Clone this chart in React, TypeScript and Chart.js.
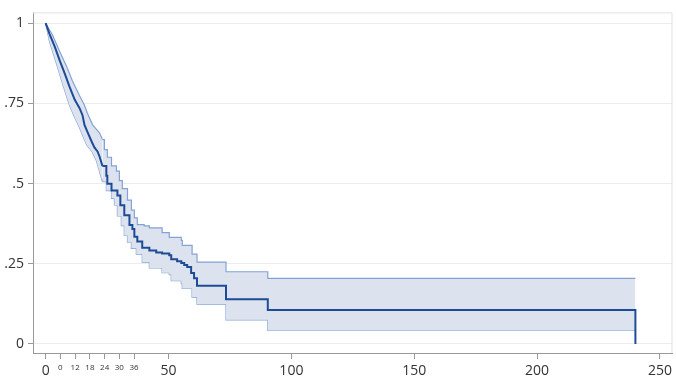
import React, { useEffect, useRef } from "react";
import { Chart, registerables } from "chart.js";

Chart.register(...registerables);

// Kaplan-Meier estimate (time, survival)
const meanTime = [0, 1.6, 3.7, 5.7, 7.7, 9.7, 11.8, 13.8, 15.0, 15.8, 17.0, 18.7, 19.9, 21.1, 21.9, 23.1, 24.7, 25.1, 26.8, 29.2, 30.4, 32.0, 34.1, 35.3, 36.1, 37.3, 39.3, 42.2, 45.0, 47.4, 50.3, 51.1, 53.5, 55.2, 56.4, 57.6, 59.2, 60.4, 61.6, 73.4, 90.4, 240];
const meanSurv = [1.0, 0.966, 0.927, 0.884, 0.844, 0.802, 0.762, 0.735, 0.713, 0.683, 0.661, 0.631, 0.612, 0.6, 0.585, 0.555, 0.524, 0.499, 0.478, 0.463, 0.432, 0.401, 0.371, 0.358, 0.334, 0.319, 0.3, 0.291, 0.285, 0.282, 0.276, 0.264, 0.258, 0.252, 0.246, 0.24, 0.221, 0.205, 0.181, 0.139, 0.106, 0];

// Upper confidence limit
const upperTime = [0, 2.8, 5.7, 8.5, 10.9, 13.8, 15.8, 17.0, 19.1, 21.9, 23.1, 23.9, 25.1, 26.8, 28.8, 30.0, 31.2, 33.3, 34.9, 36.1, 37.3, 40.1, 42.2, 47.4, 50.3, 55.2, 55.6, 59.6, 61.6, 73.4, 90.4, 240];
const upperSurv = [1.0, 0.963, 0.912, 0.866, 0.82, 0.774, 0.744, 0.719, 0.683, 0.658, 0.637, 0.606, 0.582, 0.555, 0.539, 0.509, 0.484, 0.448, 0.417, 0.393, 0.372, 0.368, 0.362, 0.347, 0.332, 0.323, 0.307, 0.28, 0.255, 0.225, 0.204, 0.204];

// Lower confidence limit
const lowerTime = [0, 1.6, 4.5, 6.9, 9.7, 11.8, 13.8, 16.6, 19.1, 20.7, 21.9, 23.1, 24.7, 26.8, 28.0, 29.2, 30.8, 32.0, 33.3, 34.9, 36.9, 39.3, 42.2, 47.4, 50.3, 51.1, 55.2, 55.6, 59.6, 61.6, 73.4, 90.4, 240];
const lowerSurv = [1.0, 0.942, 0.872, 0.811, 0.744, 0.707, 0.674, 0.622, 0.597, 0.57, 0.539, 0.506, 0.478, 0.454, 0.433, 0.399, 0.369, 0.338, 0.317, 0.298, 0.28, 0.255, 0.237, 0.222, 0.216, 0.197, 0.188, 0.173, 0.146, 0.124, 0.075, 0.042, 0.042];

// dense early part is drawn as a smooth trace, steps after this time
const SPLIT_TIME = 23.1;

const xMajorTicks = [0, 50, 100, 150, 200, 250];
const xMinorTicks = [6, 12, 18, 24, 30, 36];
const xMinorLabels = ["0", "12", "18", "24", "30", "36"];
const yTicks = [0, 0.25, 0.5, 0.75, 1];
const yTickLabels = ["0", ".25", ".5", ".75", "1"];

const FONT = "'Open Sans', 'Noto Sans', sans-serif";

export default function App() {
  const ref = useRef<HTMLCanvasElement>(null);

  useEffect(() => {
    if (!ref.current) return;
    const toPts = (xs: number[], ys: number[]) => xs.map((x, i) => ({ x, y: ys[i] }));
    const early = (xs: number[], ys: number[]) => toPts(xs, ys).filter((p) => p.x <= SPLIT_TIME);
    const late = (xs: number[], ys: number[]) => toPts(xs, ys).filter((p) => p.x >= SPLIT_TIME);
    const allX = [...xMajorTicks, ...xMinorTicks].sort((a, b) => a - b);

    const meanStyle = { borderColor: "#1d4b97", borderWidth: 2, pointRadius: 0, fill: false };
    const bandEdge = "rgba(125,158,212,0.95)";
    const bandFill = "#dde3ee";

    const borderPlugin = {
      id: "plotBorder",
      beforeDatasetsDraw(chart: any) {
        const { ctx, chartArea: a } = chart;
        ctx.save();
        ctx.strokeStyle = "#e2e2e2";
        ctx.lineWidth = 1;
        ctx.beginPath();
        ctx.moveTo(a.left, a.top + 0.5);
        ctx.lineTo(a.right - 0.5, a.top + 0.5);
        ctx.lineTo(a.right - 0.5, a.bottom);
        ctx.stroke();
        ctx.restore();
      },
    };

    const chart = new Chart(ref.current, {
      type: "line",
      data: {
        datasets: [
          { label: "Survival", data: early(meanTime, meanSurv), stepped: false, ...meanStyle },
          { label: "Survival (steps)", data: late(meanTime, meanSurv), stepped: true, ...meanStyle },
          {
            label: "Upper",
            data: early(upperTime, upperSurv),
            borderColor: bandEdge,
            borderWidth: 1.2,
            stepped: false,
            pointRadius: 0,
            fill: "+1",
            backgroundColor: bandFill,
          },
          {
            label: "Lower",
            data: early(lowerTime, lowerSurv),
            borderColor: bandEdge,
            borderWidth: 1.2,
            stepped: false,
            pointRadius: 0,
            fill: false,
          },
          {
            label: "Upper (steps)",
            data: late(upperTime, upperSurv),
            borderColor: bandEdge,
            borderWidth: 1.2,
            stepped: true,
            pointRadius: 0,
            fill: "+1",
            backgroundColor: bandFill,
          },
          {
            label: "Lower (steps)",
            data: late(lowerTime, lowerSurv),
            borderColor: bandEdge,
            borderWidth: 1.2,
            stepped: true,
            pointRadius: 0,
            fill: false,
          },
        ],
      },
      options: {
        responsive: false,
        animation: false,
        devicePixelRatio: 1,
        layout: { padding: { top: 5, right: 1, left: 0, bottom: 0 } },
        plugins: { legend: { display: false }, tooltip: { enabled: false } },
        scales: {
          x: {
            type: "linear",
            min: -5.15,
            max: 255.1,
            afterBuildTicks: (s: any) => {
              s.ticks = allX.map((v) => ({ value: v }));
            },
            afterFit: (s: any) => {
              s.height = 31;
            },
            grid: { drawOnChartArea: false, tickLength: 6, tickColor: "#999" },
            border: { color: "#999" },
            ticks: {
              autoSkip: false,
              maxRotation: 0,
              minRotation: 0,
              padding: 4,
              color: "#333",
              font: (ctx: any) => {
                const v = ctx.tick ? ctx.tick.value : 0;
                return { family: FONT, size: xMinorTicks.includes(v) ? 8 : 14 };
              },
              callback: (v: any) => {
                const i = xMinorTicks.indexOf(v);
                return i >= 0 ? xMinorLabels[i] : String(v);
              },
            },
          },
          y: {
            type: "linear",
            min: -0.0284,
            max: 1.0336,
            afterBuildTicks: (s: any) => {
              s.ticks = yTicks.map((v) => ({ value: v }));
            },
            afterFit: (s: any) => {
              s.width = 33;
            },
            grid: { color: "#ececec", tickLength: 5, tickColor: "#999" },
            border: { color: "#999" },
            ticks: {
              padding: 4,
              color: "#333",
              font: { family: FONT, size: 14 },
              callback: (v: any) => {
                const i = yTicks.indexOf(v);
                return i >= 0 ? yTickLabels[i] : "";
              },
            },
          },
        },
      },
      plugins: [borderPlugin],
    } as any);

    return () => chart.destroy();
  }, []);

  return (
    <div style={{ position: "absolute", left: 0, top: 0, width: 676, height: 384, background: "#fff" }}>
      <canvas ref={ref} width={676} height={384} style={{ display: "block" }} />
    </div>
  );
}
